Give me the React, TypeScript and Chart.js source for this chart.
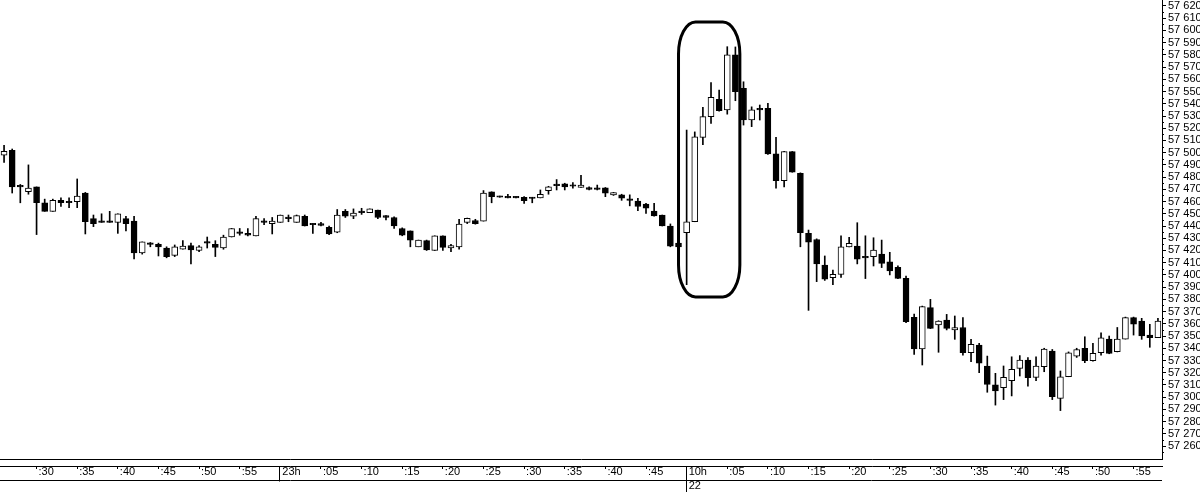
import { useEffect, useRef } from "react";
import { Chart, registerables } from "chart.js";

Chart.register(...registerables);

// ---- categories (1-minute candles) ----
const times22 = [
  "22:26","22:27","22:28","22:29","22:30","22:31","22:32","22:33","22:34","22:35",
  "22:36","22:37","22:38","22:39","22:40","22:41","22:42","22:43","22:44","22:45",
  "22:46","22:47","22:48","22:49","22:50","22:51","22:52","22:53","22:54","22:55",
  "22:56","22:57","22:58","22:59",
];
const times23 = [
  "23:00","23:01","23:02","23:03","23:04","23:05","23:06","23:07","23:08","23:09",
  "23:10","23:11","23:12","23:13","23:14","23:15","23:16","23:17","23:18","23:19",
  "23:20","23:21","23:22","23:23","23:24","23:25","23:26","23:27","23:28","23:29",
  "23:30","23:31","23:32","23:33","23:34","23:35","23:36","23:37","23:38","23:39",
  "23:40","23:41","23:42","23:43","23:44","23:45","23:46","23:47","23:48","23:49",
];
const times10 = [
  "10:00","10:01","10:02","10:03","10:04","10:05","10:06","10:07","10:08","10:09",
  "10:10","10:11","10:12","10:13","10:14","10:15","10:16","10:17","10:18","10:19",
  "10:20","10:21","10:22","10:23","10:24","10:25","10:26","10:27","10:28","10:29",
  "10:30","10:31","10:32","10:33","10:34","10:35","10:36","10:37","10:38","10:39",
  "10:40","10:41","10:42","10:43","10:44","10:45","10:46","10:47","10:48","10:49",
  "10:50","10:51","10:52","10:53","10:54","10:55","10:56","10:57","10:58",
];
const times = [...times22, ...times23, ...times10];
const dayMarks: Record<string, string> = { "10:00": "22" };

// ---- series (OHLC) ----
const opens = [
  57498,57502,57473,57468,57472,57459,57452,57461,57460,57460,
  57467,57446,57444,57444,57443,57446,57444,57418,57426,57425,
  57422,57416,57421,57424,57420,57427,57425,57422,57431,57435,
  57434,57432,57444,57442,57443,57447,57443,57448,57442,57442,
  57439,57435,57452,57448,57452,57451,57453,57448.5,57447,57438,
  57436,57423,57428,57420,57432,57422,57423,57443,57444.5,57444,
  57468,57464.5,57464,57464,57463.5,57463.5,57463,57469,57474,57474.5,
  57473.5,57471.5,57471.5,57471,57471.3,57465.4,57465.5,57462,57460.5,57458,
  57452.3,57449,57440,57426,57434.5,57443.5,57512.5,57529.5,57543.7,57535,
  57580,57552.7,57526.7,57536,57536.3,57499,57477,57500.8,57483,57434,
  57429,57408,57397.7,57400.5,57423,57423.6,57414.5,57415,57417,57410.8,
  57406.2,57397.2,57365.3,57339.4,57373.2,57359,57363,57355,57357,57336.3,
  57342.6,57325.5,57310,57307.7,57313.4,57323.6,57330.4,57316.2,57325,57337.7,
  57299,57316.7,57333.6,57340,57329.8,57336.3,57347.5,57337.2,57347.5,57365,
  57362.3,57350.8,57348.6,
];
const highs = [
  57506,57503,57474,57490,57472,57462,57462,57463,57463,57478.5,
  57467.5,57449,57450,57452,57450,57448,57448,57427,57426.5,57426,
  57423,57424.5,57428,57426,57424,57431,57428,57432.5,57438,57438,
  57438,57448,57446,57447,57449,57449,57449,57449,57442,57443,
  57440,57453.5,57453.5,57454,57454.5,57454,57453,57448.5,57447.5,57438.5,
  57436,57428.5,57428.5,57432,57432,57425,57445.5,57446.5,57445.5,57469,
  57468,57464.5,57466,57464,57464,57463.5,57469.5,57472.5,57478,57475,
  57475.5,57481.5,57472,57473.5,57471.5,57467.5,57466,57465.5,57462.7,57458.6,
  57458.5,57449,57441.7,57426.5,57518.5,57517,57537,57557.3,57551.3,57586.7,
  57586.5,57558,57537.5,57539,57540.4,57512.6,57501,57501,57483.5,57436.7,
  57429.5,57415.5,57404,57432,57430.7,57442.7,57432,57430.4,57428.5,57418.5,
  57407.5,57399,57368,57374.5,57380,57362.5,57367.7,57366.4,57365,57347.3,
  57344,57333.6,57319.5,57325.5,57333,57334,57332.3,57333,57340,57339,
  57321.4,57337,57340,57349.4,57344,57352.7,57350,57357,57365.5,57365.5,
  57364.5,57359.6,57364.5,
];
const lows = [
  57492,57467,57459,57466,57433,57452,57452,57456,57455,57455,
  57433.5,57439.5,57443,57443,57434,57436,57413,57417,57423,57415.5,
  57414,57415,57421,57409,57419,57422,57415,57421,57431,57432.5,
  57432,57432,57441,57433.5,57443,57443.5,57443,57440,57434,57440,
  57433,57434.5,57447,57446,57449.5,57451,57446,57445,57438,57432,
  57423,57423,57420,57420,57420,57419,57421,57442,57441.5,57444,
  57459,57463.5,57463,57463,57458.5,57459,57463,57466,57469.5,57469.5,
  57471,57471.5,57469.5,57469.5,57464,57465,57461,57456.5,57452.5,57450.3,
  57448,57440,57423,57422.5,57392,57443.5,57506.5,57524,57534,57531.5,
  57542.5,57522.6,57521.3,57526.7,57498.5,57471,57472,57484,57423,57371,
  57394.5,57395.5,57392,57398,57423,57409,57397,57407.3,57406,57400,
  57397,57361,57335,57326.3,57356,57336.7,57355,57347.3,57334.4,57329,
  57320,57304,57293.5,57298,57301,57317.3,57309,57313.4,57320.8,57298,
  57289,57316.7,57332.5,57328.2,57329.5,57334.4,57335.5,57337,57347.5,57350.8,
  57347.3,57340.8,57348.6,
];
const closes = [
  57501,57472,57472,57471,57459,57452,57461,57459,57459,57464.5,
  57443.5,57442,57443,57443,57450,57442,57418,57427,57425,57423,
  57415,57423,57423.5,57420.5,57423,57426,57422.5,57431,57438,57434,
  57432.5,57446,57443,57444,57449,57446,57448.5,57440,57441,57440.5,
  57433.5,57449,57448,57450.5,57451,57454,57447,57447,57440,57432.5,
  57428.5,57428.5,57420.5,57432,57422.5,57424,57441.5,57446.3,57442,57467,
  57464,57463.5,57463,57463,57460.7,57462.5,57466,57472,57473,57472,
  57472.5,57473.5,57470,57470,57466.8,57467.3,57462.7,57461,57456,57454.5,
  57448.2,57440,57423.6,57423,57443.5,57513,57529.5,57545.3,57534.3,57580,
  57550,57526.7,57535,57535,57499,57477,57500.8,57484,57434.5,57426.7,
  57409,57396.5,57400.5,57423,57425.8,57412.8,57414,57420.4,57409.5,57403.2,
  57397.2,57361.7,57339.4,57374,57356.3,57362.3,57356.3,57357,57336.3,57343.2,
  57327.7,57310.5,57305,57316.2,57322.7,57330.4,57316,57325.5,57339.4,57300.3,
  57316.7,57336.3,57339,57329.8,57335.8,57348.6,57335.8,57347.5,57365,57359.8,
  57350,57348.6,57362.3,
];

// ---- value axis ----
const yMin = 57249.4;
const yMax = 57624.9;
const yStep = 10;
const yLabelFrom = 57260;

// ---- highlighted zone (data units) ----
const highlight = { fromIndex: 83, toIndex: 90.55, top: 57607, bottom: 57382 };

const FONT = "'Liberation Sans', Arial, Helvetica, sans-serif";

function tickLabel(t: string): string | string[] {
  const [h, m] = t.split(":");
  if (m === "00") {
    const hl = `${Number(h)}h`;
    return dayMarks[t] ? [hl, dayMarks[t]] : hl;
  }
  if (Number(m) % 5 === 0) return `:${m}`;
  return "";
}

function isMinorMark(t: string) {
  const m = t.split(":")[1];
  return m !== "00" && Number(m) % 5 === 0;
}

function fmtPrice(v: number) {
  const th = Math.floor(v / 1000);
  const rest = String(Math.round(v % 1000)).padStart(3, "0");
  return `${th} ${rest}`;
}

const decor = {
  id: "decor",
  afterDatasetsDraw(chart: any) {
    const { ctx, scales } = chart;
    const x = scales.x;
    const y = scales.y;
    const l = x.getPixelForValue(highlight.fromIndex);
    const r = x.getPixelForValue(highlight.toIndex);
    const t = y.getPixelForValue(highlight.top);
    const b = y.getPixelForValue(highlight.bottom);
    const rx = 17;
    const ry = 32;
    ctx.save();
    ctx.lineWidth = 3;
    ctx.strokeStyle = "#000";
    ctx.beginPath();
    ctx.moveTo(l + rx, t);
    ctx.lineTo(r - rx, t);
    ctx.ellipse(r - rx, t + ry, rx, ry, 0, -Math.PI / 2, 0);
    ctx.lineTo(r, b - ry);
    ctx.ellipse(r - rx, b - ry, rx, ry, 0, 0, Math.PI / 2);
    ctx.lineTo(l + rx, b);
    ctx.ellipse(l + rx, b - ry, rx, ry, 0, Math.PI / 2, Math.PI);
    ctx.lineTo(l, t + ry);
    ctx.ellipse(l + rx, t + ry, rx, ry, 0, Math.PI, Math.PI * 1.5);
    ctx.closePath();
    ctx.stroke();
    ctx.restore();
  },
  afterDraw(chart: any) {
    const { ctx, scales, chartArea } = chart;
    const y = scales.y;
    const xl = scales.xl;
    ctx.save();
    ctx.strokeStyle = "#000";
    ctx.lineWidth = 1;
    // minor ticks on value axis
    ctx.beginPath();
    for (let v = yLabelFrom - yStep / 2; v <= yMax; v += yStep) {
      const py = Math.round(y.getPixelForValue(v)) + 0.5;
      ctx.moveTo(y.left, py);
      ctx.lineTo(y.left + 2, py);
    }
    ctx.stroke();
    // bottom line of time axis
    const by = Math.round(xl.top + 14) + 0.5;
    ctx.beginPath();
    ctx.moveTo(chartArea.left, by);
    ctx.lineTo(chartArea.right, by);
    ctx.stroke();
    // hour separators
    ctx.beginPath();
    times.forEach((t, i) => {
      if (t.endsWith(":00")) {
        const px = Math.round(xl.getPixelForValue(i)) - 0.5;
        ctx.moveTo(px, xl.top);
        ctx.lineTo(px, dayMarks[t] ? xl.bottom : by + 1);
      }
    });
    ctx.stroke();
    ctx.restore();
  },
};

export default function App() {
  const ref = useRef<HTMLCanvasElement>(null);
  useEffect(() => {
    document.body.style.margin = "0";
    const canvas = ref.current;
    if (!canvas) return;
    const bodies = opens.map((o, i) => [o, closes[i]]);
    const wicks = lows.map((l, i) => [l, highs[i]]);
    const bodyColors = opens.map((o, i) => (closes[i] > o ? "#ffffff" : "#000000"));
    const chart = new Chart(canvas, {
      type: "bar",
      data: {
        labels: times,
        datasets: [
          {
            label: "body",
            data: bodies as any,
            backgroundColor: bodyColors,
            borderColor: "#000",
            borderWidth: 1,
            borderSkipped: false,
            barThickness: 6,
            minBarLength: 1.5,
            grouped: false,
            order: 1,
          } as any,
          {
            label: "wick",
            data: wicks as any,
            backgroundColor: "#000",
            borderWidth: 0,
            barThickness: 1,
            grouped: false,
            order: 2,
          } as any,
        ],
      },
      options: {
        animation: false,
        responsive: false,
        maintainAspectRatio: false,
        events: [],
        layout: { padding: 0 },
        plugins: { legend: { display: false }, tooltip: { enabled: false } },
        scales: {
          x: {
            type: "category",
            position: "bottom",
            offset: true,
            weight: 0,
            grid: { display: false },
            border: { display: true, color: "#000", width: 1 },
            ticks: { display: false },
            afterFit: (s: any) => {
              s.height = 7;
              s.paddingLeft = 0;
              s.paddingRight = 0;
            },
          },
          xl: {
            type: "category",
            position: "bottom",
            offset: true,
            weight: 1,
            min: 0,
            max: times.length - 1,
            grid: {
              display: true,
              drawOnChartArea: false,
              drawTicks: true,
              tickLength: 3,
              offset: false,
              tickWidth: 1,
              tickColor: (c: any) => (isMinorMark(times[c.index] || "") ? "#000" : "rgba(0,0,0,0)"),
            },
            border: { display: true, color: "#000", width: 1 },
            ticks: {
              autoSkip: false,
              maxRotation: 0,
              minRotation: 0,
              align: "start",
              labelOffset: 2,
              padding: -4,
              color: "#000",
              font: { family: FONT, size: 11, lineHeight: 1.3 },
              callback: (_v: any, i: number) => tickLabel(times[i]),
            },
            afterFit: (s: any) => {
              s.height = 26;
              s.paddingLeft = 0;
              s.paddingRight = 0;
            },
          } as any,
          y: {
            position: "right",
            min: yMin,
            max: yMax,
            grid: {
              display: true,
              drawOnChartArea: false,
              drawTicks: true,
              tickLength: 4,
              tickColor: (c: any) => (c.tick && c.tick.value >= yLabelFrom ? "#000" : "rgba(0,0,0,0)"),
            },
            border: { display: true, color: "#000", width: 1 },
            ticks: {
              stepSize: yStep,
              includeBounds: false,
              autoSkip: false,
              padding: 2,
              color: "#000",
              font: { family: FONT, size: 11 },
              callback: (v: any) => (Number(v) >= yLabelFrom ? fmtPrice(Number(v)) : ""),
            },
            afterFit: (s: any) => {
              s.width = 38;
              s.paddingTop = 0;
              s.paddingBottom = 0;
            },
          },
        },
      },
      plugins: [decor],
    });
    return () => chart.destroy();
  }, []);
  return <canvas ref={ref} width={1200} height={492} style={{ display: "block" }} />;
}
